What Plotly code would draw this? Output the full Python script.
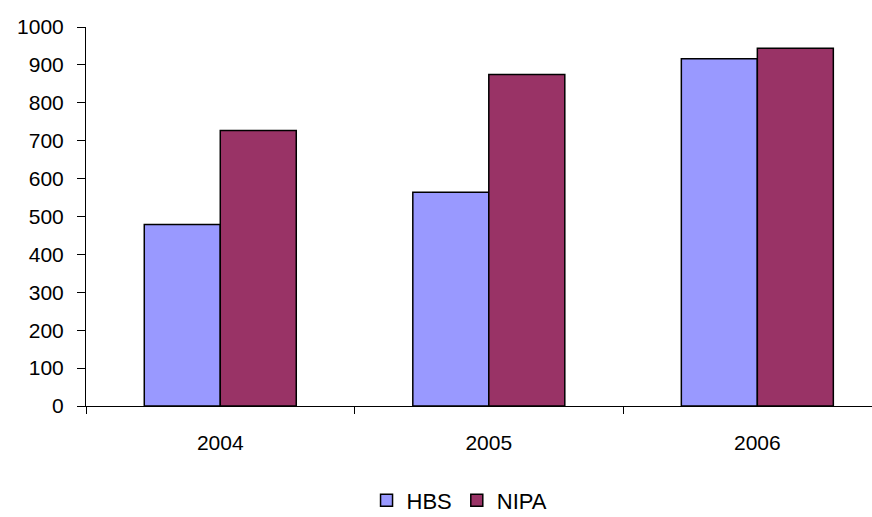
import plotly.graph_objects as go

years = ["2004", "2005", "2006"]
hbs = [479, 564, 916]
nipa = [727, 875, 944]
y_ticks = list(range(0, 1001, 100))

fig = go.Figure()
fig.add_trace(go.Bar(name="HBS", x=years, y=hbs, marker=dict(color="#9999FF", line=dict(color="black", width=1.5))))
fig.add_trace(go.Bar(name="NIPA", x=years, y=nipa, marker=dict(color="#993366", line=dict(color="black", width=1.5))))

font = dict(family="Liberation Sans, Arial, sans-serif", size=21, color="black")

fig.update_layout(
    width=872, height=517,
    margin=dict(l=86, r=0, t=27, b=111, autoexpand=False),
    paper_bgcolor="white", plot_bgcolor="white",
    barmode="group", bargap=0.434, bargroupgap=0,
    font=font,
    showlegend=True,
    legend=dict(orientation="h", xref="container", x=0.527, xanchor="center",
                yref="container", y=0.032, yanchor="middle",
                font=dict(family="Liberation Sans, Arial, sans-serif", size=22, color="black"),
                itemwidth=30, tracegroupgap=0),
    xaxis=dict(type="category", range=[-0.5, 2.427], showline=True, linecolor="black", linewidth=1,
               ticks="outside", tickson="boundaries", ticklen=7, tickcolor="black",
               ticklabelstandoff=18, showgrid=False, zeroline=False),
    yaxis=dict(range=[0, 1000], tickvals=y_ticks, showline=True, linecolor="black", linewidth=1,
               ticks="outside", ticklen=8, tickcolor="black", ticklabelstandoff=9,
               showgrid=False, zeroline=False),
)

fig.write_html("out.html")
